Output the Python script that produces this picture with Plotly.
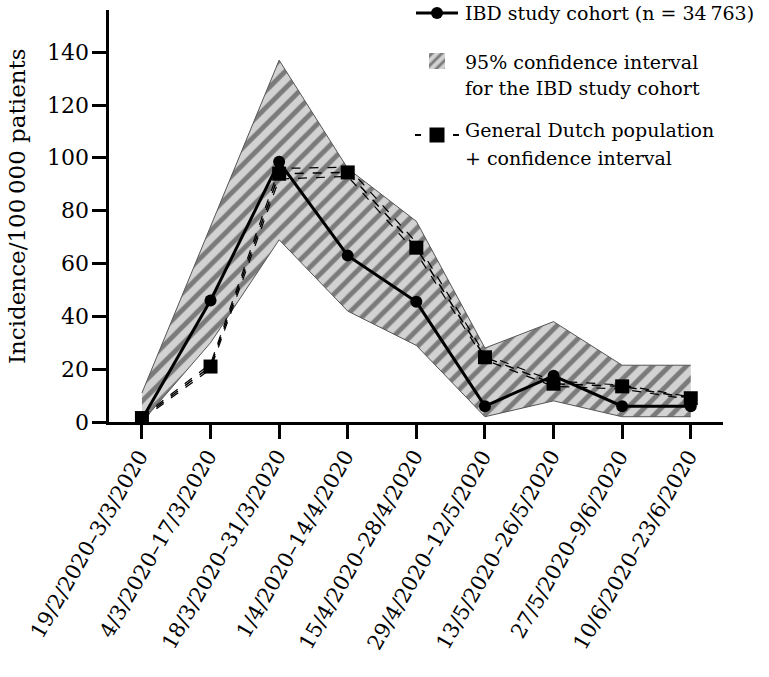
import plotly.graph_objects as go

periods = ["19/2/2020–3/3/2020", "4/3/2020–17/3/2020", "18/3/2020–31/3/2020",
           "1/4/2020–14/4/2020", "15/4/2020–28/4/2020", "29/4/2020–12/5/2020",
           "13/5/2020–26/5/2020", "27/5/2020–9/6/2020", "10/6/2020–23/6/2020"]

ibd = [1, 46, 98.5, 63, 45.5, 6, 17.5, 6, 6]
ibd_ci_low = [0, 30, 69, 42, 29, 2, 8, 2, 2]
ibd_ci_high = [11, 74, 137, 96, 76, 28, 38, 21.5, 21.5]

dutch = [1.5, 21, 94, 94.5, 66, 24.5, 14.5, 13.5, 9]
dutch_ci_low = [1, 20, 92, 93, 64, 23.5, 13.5, 12.5, 8.5]
dutch_ci_high = [2, 22, 96, 96.5, 68, 25.5, 15.5, 14, 9.5]

y_ticks = [0, 20, 40, 60, 80, 100, 120, 140]
y_title = "Incidence/100\u2009000 patients"
legend_lines = [
    ["IBD study cohort (n = 34\u2009763)"],
    ["95% confidence interval", "for the IBD study cohort"],
    ["General Dutch population", "+ confidence interval"],
]

x = list(range(len(periods)))
FONT = "DejaVu Serif"
PAT_BG, PAT_FG = "#d2d2d2", "#7a7a7a"

fig = go.Figure()

# hatched 95% CI band of the IBD cohort
fig.add_trace(go.Scatter(x=x, y=ibd_ci_low, mode="lines",
                         line=dict(color="#555555", width=1), hoverinfo="skip"))
fig.add_trace(go.Scatter(x=x, y=ibd_ci_high, mode="lines", fill="tonexty",
                         line=dict(color="#555555", width=1), fillcolor=PAT_BG,
                         fillpattern=dict(shape="/", bgcolor=PAT_BG, fgcolor=PAT_FG,
                                          size=12, solidity=0.4)))
# general Dutch population + CI
fig.add_trace(go.Scatter(x=x, y=dutch_ci_low, mode="lines",
                         line=dict(color="black", width=1.2, dash="dash")))
fig.add_trace(go.Scatter(x=x, y=dutch_ci_high, mode="lines",
                         line=dict(color="black", width=1.2, dash="dash")))
fig.add_trace(go.Scatter(x=x, y=dutch, mode="lines+markers",
                         line=dict(color="black", width=1.5, dash="dash"),
                         marker=dict(symbol="square", size=14, color="black"),
                         cliponaxis=False))
# IBD cohort
fig.add_trace(go.Scatter(x=x, y=ibd, mode="lines+markers",
                         line=dict(color="black", width=3),
                         marker=dict(symbol="circle", size=12, color="black"),
                         cliponaxis=False))

# ---- legend glyphs, drawn on an overlay axis measured in pixels of the plot area
L = dict(xaxis="x2", yaxis="y2", hoverinfo="skip", cliponaxis=False)
fig.add_trace(go.Scatter(x=[416, 458], y=[13, 13], mode="lines",
                         line=dict(color="black", width=3), **L))
fig.add_trace(go.Scatter(x=[437], y=[13], mode="markers",
                         marker=dict(symbol="circle", size=12, color="black"), **L))
fig.add_trace(go.Scatter(x=[429, 445, 445, 429, 429], y=[53, 53, 69, 69, 53], mode="lines",
                         fill="toself", line=dict(width=0), fillcolor=PAT_BG,
                         fillpattern=dict(shape="/", bgcolor=PAT_BG, fgcolor=PAT_FG,
                                          size=7, solidity=0.4), **L))
fig.add_trace(go.Scatter(x=[415, 421, None, 453, 459], y=[135, 135, None, 135, 135],
                         mode="lines", line=dict(color="black", width=2), **L))
fig.add_trace(go.Scatter(x=[437], y=[135], mode="markers",
                         marker=dict(symbol="square", size=15, color="black"), **L))

annotations = []
# x tick labels
for i, lab in enumerate(periods):
    annotations.append(dict(x=i, y=0, xref="x", yref="y", text=lab, showarrow=False,
                            textangle=-60, xanchor="right", yanchor="top",
                            xshift=14, yshift=-21,
                            font=dict(family=FONT, size=21, color="black")))
# y tick labels
for v in y_ticks:
    annotations.append(dict(x=0, y=v, xref="paper", yref="y", text=str(v), showarrow=False,
                            xanchor="right", yanchor="middle", xshift=-18,
                            font=dict(family=FONT, size=22, color="black")))
# y title
annotations.append(dict(x=0, y=0.524, xref="paper", yref="paper", text=y_title,
                        showarrow=False, textangle=-90, xanchor="center", yanchor="middle",
                        xshift=-92, font=dict(family=FONT, size=23, color="black")))
# legend texts
legend_y = [[13], [62, 88], [130, 158]]
for lines, ys in zip(legend_lines, legend_y):
    for t, yp in zip(lines, ys):
        annotations.append(dict(x=463, y=yp, xref="x2", yref="y2", text=t, showarrow=False,
                                xanchor="left", yanchor="middle",
                                font=dict(family=FONT, size=19, color="black")))

fig.update_layout(
    template="none",
    width=769, height=677, autosize=False, showlegend=False,
    margin=dict(l=109, r=46, t=10, b=255, autoexpand=False),
    paper_bgcolor="white", plot_bgcolor="white",
    font=dict(family=FONT, size=22, color="black"),
    annotations=annotations,
    xaxis=dict(range=[-0.48, 8.47], tickmode="array", tickvals=x, showticklabels=False,
               showline=True, linecolor="black", linewidth=3,
               ticks="outside", ticklen=14, tickwidth=2.5, tickcolor="black",
               showgrid=False, zeroline=False, automargin=False),
    yaxis=dict(range=[0, 156], tickvals=y_ticks, showticklabels=False,
               showline=True, linecolor="black", linewidth=3,
               ticks="outside", ticklen=14, tickwidth=2.5, tickcolor="black",
               showgrid=False, zeroline=False, automargin=False),
    xaxis2=dict(range=[109, 723], overlaying="x", anchor="y2", visible=False,
                fixedrange=True),
    yaxis2=dict(range=[422, 10], overlaying="y", anchor="x2", visible=False,
                fixedrange=True),
)

post = ("document.body.style.margin='0';"
        "if (document.fonts) { document.fonts.load('22px \"DejaVu Serif\"').then(function(){"
        "try { Plotly.redraw(document.getElementById('{plot_id}')); } catch (e) {} }); }")
fig.write_html("out.html", config={"displayModeBar": False}, post_script=post)
